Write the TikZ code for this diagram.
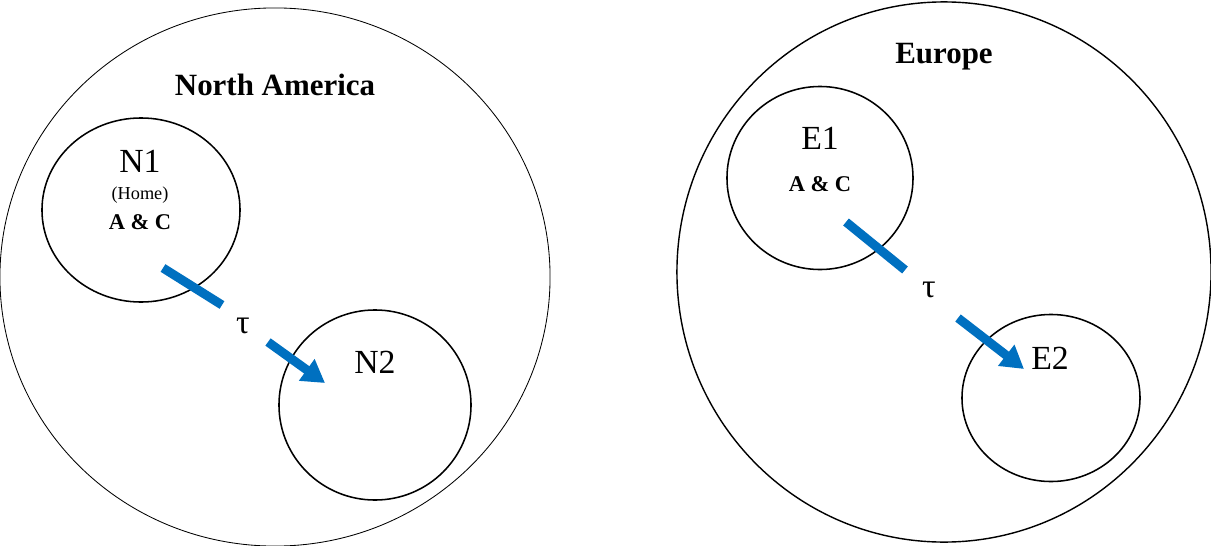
\documentclass[tikz,border=0pt]{standalone}
\usepackage{fontspec}
\setmainfont{Liberation Serif}
\usepackage{tikz}
\usetikzlibrary{shapes.geometric, arrows.meta, positioning}
\definecolor{taublue}{RGB}{0,112,192}
\tikzstyle{region}  = [ellipse, draw=black, line width=0.6pt, inner sep=0pt]
\tikzstyle{site}    = [ellipse, draw=black, line width=1.1pt, inner sep=0pt]
\tikzstyle{title}   = [font=\fontsize{22}{26}\selectfont\bfseries]
\tikzstyle{sitelbl} = [font=\fontsize{24}{28}\selectfont, inner sep=0pt]
\tikzstyle{note}    = [font=\fontsize{13}{15}\selectfont, inner sep=0pt]
\tikzstyle{ac}      = [font=\fontsize{16}{19}\selectfont\bfseries, inner sep=0pt]
\tikzstyle{tauline} = [taublue, line width=6.4pt]
\tikzstyle{tauarrow}= [taublue, line width=6.4pt, -{Triangle[length=16pt,width=18pt]}]

\begin{document}
\begin{tikzpicture}[x=0.025cm, y=-0.025cm]
  \useasboundingbox (0,0) rectangle (1211,546);
  % North America
  \node[region, minimum width=13.75cm, minimum height=13.45cm] (na) at (275,277) {};
  \node[title] (natitle) at (275,85) {North America};
  \node[site, minimum width=4.95cm, minimum height=4.6cm] (n1) at (141,210) {};
  \node[site, minimum width=4.8cm, minimum height=4.75cm] (n2) at (375,405) {};
  \node[sitelbl] (n1lbl) at (140,161) {N1};
  \node[note] (n1home) at (140,195) {(Home)};
  \node[ac] (n1ac) at (140,222) {A \& C};
  \node[sitelbl] (n2lbl) at (375,362) {N2};
  \node[sitelbl] (ntau) at (243,326) {τ};
  \coordinate (na1) at (163,268);
  \coordinate (na2) at (222,305);
  \coordinate (na3) at (268,342);
  \coordinate (na4) at (325,383);
  \draw[tauline] (na1) -- (na2);
  \draw[tauarrow] (na3) -- (na4);
  % Europe
  \node[region, line width=1pt, minimum width=13.35cm, minimum height=13.5cm] (eu) at (944,272) {};
  \node[title] (eutitle) at (944,57) {Europe};
  \node[site, minimum width=4.65cm, minimum height=4.575cm] (e1) at (820,178) {};
  \node[site, minimum width=4.45cm, minimum height=4.175cm] (e2) at (1051,398) {};
  \node[sitelbl] (e1lbl) at (820,138) {E1};
  \node[ac] (e1ac) at (820,184) {A \& C};
  \node[sitelbl] (e2lbl) at (1050,358) {E2};
  \node[sitelbl] (etau) at (929,290) {τ};
  \coordinate (eu1) at (846,222);
  \coordinate (eu2) at (905,270);
  \coordinate (eu3) at (958,318);
  \coordinate (eu4) at (1024,369);
  \draw[tauline] (eu1) -- (eu2);
  \draw[tauarrow] (eu3) -- (eu4);
\end{tikzpicture}
\end{document}
